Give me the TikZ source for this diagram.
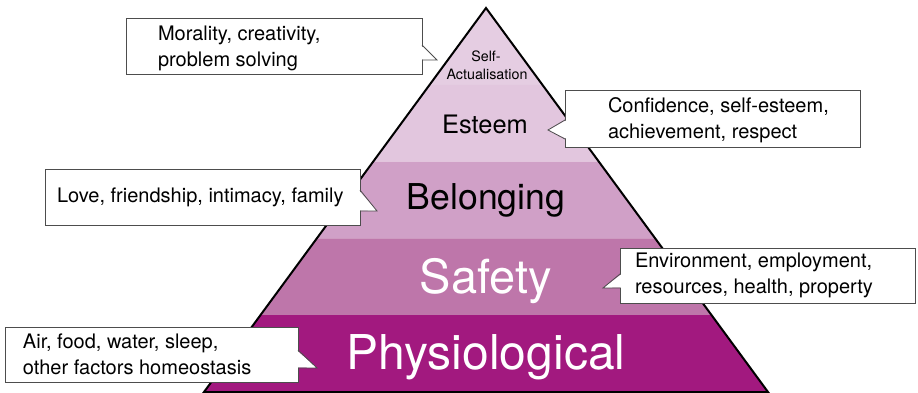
\documentclass[tikz,border=0pt]{standalone}
\usepackage{fontspec}
\setmainfont{TeX Gyre Heros}
\usetikzlibrary{calc}

\definecolor{selfcol}{HTML}{E5CDE2}
\definecolor{esteemcol}{HTML}{E2C6DE}
\definecolor{belongcol}{HTML}{D0A0C7}
\definecolor{safetycol}{HTML}{BE76AA}
\definecolor{physiocol}{HTML}{A2197F}
\definecolor{boxline}{HTML}{4D4D4D}

\begin{document}
\begin{tikzpicture}[x=1pt, y=-1pt]
\tikzset{ inner sep=0pt, outer sep=0pt,
  callbox/.style={draw=boxline, fill=white, line width=0.8pt, anchor=north west},
  calltext/.style={anchor=west, align=left, font=\fontsize{20}{26}\selectfont},
  level/.style={anchor=base, text=black},
}

\useasboundingbox (0,0) rectangle (918,393);
%\draw [lightgray, dashed](0,0) grid[step=50] (918,393);

\coordinate (A)  at (486,8);
\coordinate (BL) at (204,392);
\coordinate (BR) at (768,392);

% levels
\fill [selfcol]   (A) -- ($(A)!0.2!(BL)$) -- ($(A)!0.2!(BR)$) -- cycle;
\fill [esteemcol] ($(A)!0.2!(BL)$) -- ($(A)!0.4!(BL)$) -- ($(A)!0.4!(BR)$) -- ($(A)!0.2!(BR)$) -- cycle;
\fill [belongcol] ($(A)!0.4!(BL)$) -- ($(A)!0.6!(BL)$) -- ($(A)!0.6!(BR)$) -- ($(A)!0.4!(BR)$) -- cycle;
\fill [safetycol] ($(A)!0.6!(BL)$) -- ($(A)!0.8!(BL)$) -- ($(A)!0.8!(BR)$) -- ($(A)!0.6!(BR)$) -- cycle;
\fill [physiocol] ($(A)!0.8!(BL)$) -- (BL) -- (BR) -- ($(A)!0.8!(BR)$) -- cycle;

\draw [line width=2pt] (A) -- (BL) -- (BR) -- cycle;

\node [level, font=\fontsize{14.3}{18}\selectfont] (self)  at (486,62)  {Self-};
\node [level, font=\fontsize{14.3}{18}\selectfont] (actual) at (487,80) {Actualisation};
\node [level, font=\fontsize{25.4}{30}\selectfont] (esteem) at (485,134) {Esteem};
\node [level, font=\fontsize{35.6}{40}\selectfont] (belong) at (486,209) {Belonging};
\node [level, font=\fontsize{47}{50}\selectfont, text=white] (safety) at (486,293) {Safety};
\node [level, font=\fontsize{48}{50}\selectfont, text=white] (physio) at (486,369) {Physiological};

% callouts
\node [callbox, minimum width=296, minimum height=56] (moral) at (126,18) {};
\coordinate (tipmoral) at (437,60);
\fill [white] ($(moral.north east)+(-1,27.5)$) -- (tipmoral) -- ($(moral.north east)+(-1,41.5)$) -- cycle;
\draw [boxline, line width=0.8pt] ($(moral.north east)+(0,27)$) -- (tipmoral) -- ($(moral.north east)+(0,42)$);
\node [calltext] (moraltext) at ($(moral.west)+(32,2)$) {Morality, creativity,\\problem solving};

\node [callbox, minimum width=295, minimum height=57] (conf) at (565,90) {};
\coordinate (tipconf) at (548,130);
\fill [white] ($(conf.north west)+(1,30.5)$) -- (tipconf) -- ($(conf.north west)+(1,48.5)$) -- cycle;
\draw [boxline, line width=0.8pt] ($(conf.north west)+(0,30)$) -- (tipconf) -- ($(conf.north west)+(0,49)$);
\node [calltext] (conftext) at ($(conf.west)+(43,2)$) {Confidence, self-esteem,\\achievement, respect};

\node [callbox, minimum width=315, minimum height=56] (love) at (45,169) {};
\coordinate (tiplove) at (377,211);
\fill [white] ($(love.north east)+(-1,21.5)$) -- (tiplove) -- ($(love.north east)+(-1,41.5)$) -- cycle;
\draw [boxline, line width=0.8pt] ($(love.north east)+(0,21)$) -- (tiplove) -- ($(love.north east)+(0,42)$);
\node [calltext] (lovetext) at ($(love.west)+(12,0)$) {Love, friendship, intimacy, family};

\node [callbox, minimum width=295, minimum height=55] (env) at (620,248) {};
\coordinate (tipenv) at (603,288);
\fill [white] ($(env.north west)+(1,26.5)$) -- (tipenv) -- ($(env.north west)+(1,39.5)$) -- cycle;
\draw [boxline, line width=0.8pt] ($(env.north west)+(0,26)$) -- (tipenv) -- ($(env.north west)+(0,40)$);
\node [calltext] (envtext) at ($(env.west)+(15,0)$) {Environment, employment,\\resources, health, property};

\node [callbox, minimum width=293, minimum height=55] (air) at (5,327) {};
\coordinate (tipair) at (317,368);
\fill [white] ($(air.north east)+(-1,23.5)$) -- (tipair) -- ($(air.north east)+(-1,40.5)$) -- cycle;
\draw [boxline, line width=0.8pt] ($(air.north east)+(0,23)$) -- (tipair) -- ($(air.north east)+(0,41)$);
\node [calltext] (airtext) at ($(air.west)+(18,0)$) {Air, food, water, sleep,\\other factors homeostasis};

\end{tikzpicture}
\end{document}
